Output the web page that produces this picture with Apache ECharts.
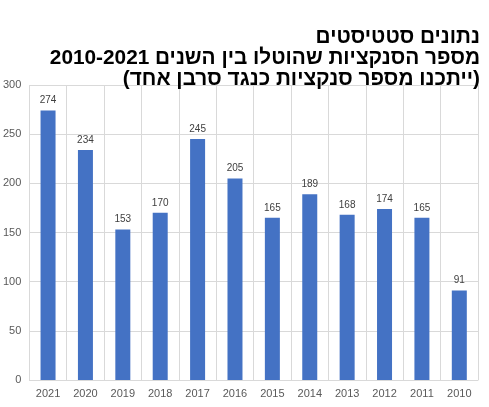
<!DOCTYPE html>
<html>
<head>
<meta charset="utf-8">
<script src="https://cdn.jsdelivr.net/npm/echarts@6/dist/echarts.min.js"></script>
<style>
  html, body { margin: 0; padding: 0; background: #fff; }
  #main { width: 489px; height: 407px; }
</style>
</head>
<body>
<div id="main"></div>
<script>
// data
var years = ['2021', '2020', '2019', '2018', '2017', '2016', '2015', '2014', '2013', '2012', '2011', '2010'];
var sanctions = [274, 234, 153, 170, 245, 205, 165, 189, 168, 174, 165, 91];
var titleLines = [
    'נתונים סטטיסטים',
    'מספר הסנקציות שהוטלו בין השנים 2010-2021',
    '(ייתכנו מספר סנקציות כנגד סרבן אחד)'
];

// RTL embedding so canvas lays the hebrew out right to left
var rtl = function (s) { return '\u202B' + s + '\u202C'; };

var titleFont = { fontSize: 20.8, lineHeight: 21, fontWeight: 'bold', fontFamily: 'Liberation Sans', color: '#000', align: 'right' };

var myChart = echarts.init(document.getElementById('main'));

var option = {
    animation: false,
    title: {
        text: titleLines.map(function (l) { return '{t|' + rtl(l) + '}'; }).join('\n'),
        right: 4,
        top: 22,
        z: 10,
        textStyle: {
            fontFamily: 'Liberation Sans',
            fontWeight: 'bold',
            color: '#000',
            rich: {
                t: titleFont
            }
        }
    },
    grid: {
        left: 28,
        right: 11,
        top: 85,
        bottom: 27
    },
    xAxis: {
        type: 'category',
        data: years,
        axisLine: { lineStyle: { color: '#d9d9d9' } },
        axisTick: { show: false },
        splitLine: { show: true, lineStyle: { color: '#d9d9d9' } },
        axisLabel: {
            color: '#595959',
            fontSize: 11,
            fontFamily: 'Liberation Sans',
            margin: 8
        }
    },
    yAxis: {
        type: 'value',
        min: 0,
        max: 300,
        interval: 50,
        axisLine: { show: false },
        axisTick: { show: false },
        splitLine: { lineStyle: { color: '#d9d9d9' } },
        axisLabel: {
            color: '#595959',
            fontSize: 11,
            fontFamily: 'Liberation Sans',
            margin: 8
        }
    },
    series: [
        {
            type: 'bar',
            data: sanctions,
            barWidth: 15,
            itemStyle: { color: '#4472c4' },
            label: {
                show: true,
                position: 'top',
                distance: 5,
                color: '#404040',
                fontSize: 10,
                fontFamily: 'Liberation Sans'
            }
        }
    ]
};

myChart.setOption(option);
</script>
</body>
</html>
